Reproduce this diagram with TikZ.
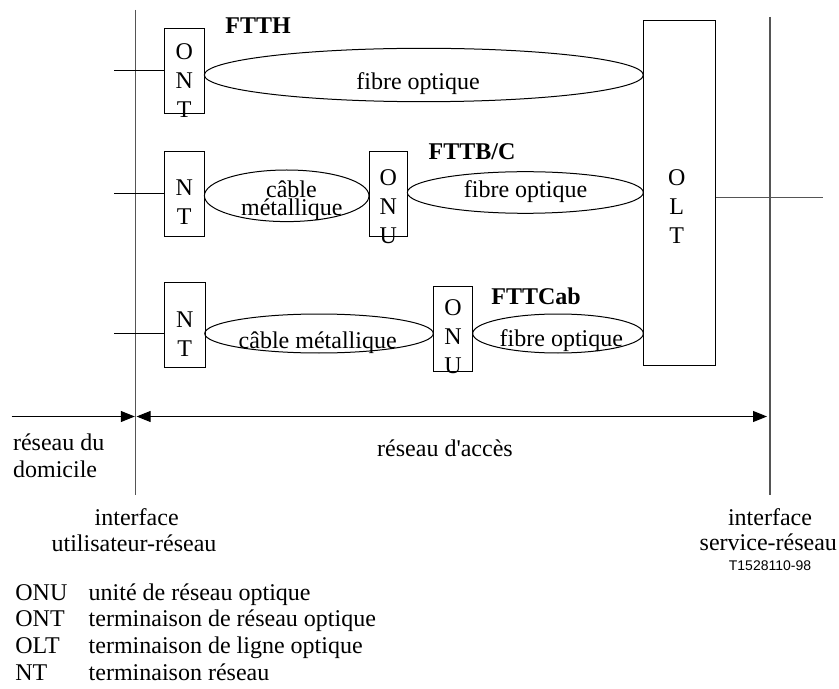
\documentclass[tikz,border=0pt]{standalone}
\usepackage{fontspec}
\setmainfont{Liberation Serif}
\newfontfamily\sansfam{Liberation Sans}
\usetikzlibrary{shapes.geometric,arrows.meta}
\definecolor{vgray}{RGB}{85,85,85}
\tikzset{
  box/.style={draw, rectangle, inner sep=0pt, line width=0.5pt},
  ell/.style={draw, ellipse, inner sep=0pt, line width=0.5pt},
  txt/.style={inner sep=0pt, font=\fontsize{12}{14.5}\selectfont},
  lbl/.style={txt, anchor=base west},
  ctr/.style={txt, anchor=base},
  bold/.style={inner sep=0pt, anchor=base west, font=\fontsize{12}{14.5}\selectfont\bfseries},
  stack/.style={txt, align=center},
  vline/.style={draw=vgray, line width=0.7pt},
  conn/.style={draw, line width=0.5pt},
  arr/.style={draw, line width=0.5pt, -{Triangle[length=7pt,width=5.5pt]}},
  darr/.style={draw, line width=0.5pt, {Triangle[length=7pt,width=5.5pt]}-{Triangle[length=7pt,width=5.5pt]}}
}
\begin{document}
\begin{tikzpicture}[x=0.5pt,y=-0.5pt]
\useasboundingbox (0,0) rectangle (839,689);
% interface lines
\coordinate (L1) at (135.5,10);
\coordinate (L2) at (135.5,495);
\coordinate (R1) at (770,17);
\coordinate (R2) at (770,495);
\path[vline] (L1) -- (L2);
\path[vline] (R1) -- (R2);
% boxes
\node[box, minimum width=20pt, minimum height=42.5pt] (ont) at (184.3,70.8) {};
\node[box, minimum width=20pt, minimum height=42.5pt] (nt2) at (184.3,194.2) {};
\node[box, minimum width=19.2pt, minimum height=42.5pt] (onu2) at (388.2,194.2) {};
\node[box, minimum width=20.3pt, minimum height=42.5pt] (nt3) at (184.7,324.8) {};
\node[box, minimum width=19.7pt, minimum height=42.2pt] (onu3) at (453,328.8) {};
\node[box, minimum width=36.2pt, minimum height=172.3pt] (olt) at (679.5,193.3) {};
% box letters
\node[stack] (tont) at (184.3,80.2) {O\\N\\T};
\node[stack] (tnt2) at (184.3,202) {N\\T};
\node[stack] (tonu2) at (388.2,206.8) {O\\N\\U};
\node[stack] (tnt3) at (184.7,334.3) {N\\T};
\node[stack] (tonu3) at (453,337) {O\\N\\U};
\node[stack] (tolt) at (676.7,207) {O\\L\\T};
% ellipses
\node[ell, minimum width=219.5pt, minimum height=26.7pt] (e1) at (423.8,75) {};
\node[ell, minimum width=82.3pt, minimum height=25.8pt] (e2a) at (286.7,195.8) {};
\node[ell, minimum width=118pt, minimum height=20.8pt] (e2b) at (525.3,192.5) {};
\node[ell, minimum width=114.3pt, minimum height=19.5pt] (e3a) at (319,333.5) {};
\node[ell, minimum width=85.3pt, minimum height=19.5pt] (e3b) at (558,333.5) {};
% ellipse texts
\node[lbl] (f1) at (356,90) {fibre optique};
\node[lbl] (c2a) at (265.7,197.5) {câble};
\node[lbl] (c2b) at (240.7,216) {métallique};
\node[lbl] (f2) at (463.5,198) {fibre optique};
\node[lbl] (c3) at (238.3,348) {câble métallique};
\node[lbl] (f3) at (499.3,346.7) {fibre optique};
% titles
\node[bold] (ftth) at (225,33.3) {FTTH};
\node[bold] (fttb) at (428.3,160) {FTTB/C};
\node[bold] (fttc) at (491,305) {FTTCab};
% stubs
\coordinate (s1) at (114,70.7);
\coordinate (s2) at (114,193.3);
\coordinate (s3) at (114,333.3);
\coordinate (o1) at (823,197.7);
\path[conn] (s1) -- (s1 -| ont.west);
\path[conn] (s2) -- (s2 -| nt2.west);
\path[conn] (s3) -- (s3 -| nt3.west);
\path[vline] (o1 -| olt.east) -- (o1);
% arrows
\coordinate (a0) at (11.7,416.5);
\coordinate (a1) at (134.8,416.5);
\coordinate (a2) at (136.6,416.5);
\coordinate (a3) at (767,416.5);
\path[arr] (a0) -- (a1);
\path[darr] (a2) -- (a3);
% bottom labels
\node[lbl] (rd1) at (12.7,450) {réseau du};
\node[lbl] (rd2) at (12.7,477.7) {domicile};
\node[ctr] (ra) at (445,456.7) {réseau d\textquotesingle accès};
\node[ctr] (iu1) at (136.7,525) {interface};
\node[ctr] (iu2) at (134,551.7) {utilisateur-réseau};
\node[ctr] (is1) at (770,525) {interface};
\node[ctr] (is2) at (768.3,550) {service-réseau};
\node[inner sep=0pt, anchor=base, font=\sansfam\fontsize{7}{8}\selectfont] (ref) at (770,570.7) {T1528110-98};
% legend
\node[lbl] (k1) at (15,600) {ONU};
\node[lbl] (d1) at (88.3,600) {unité de réseau optique};
\node[lbl] (k2) at (15,626.7) {ONT};
\node[lbl] (d2) at (88.3,626.7) {terminaison de réseau optique};
\node[lbl] (k3) at (15,653.3) {OLT};
\node[lbl] (d3) at (88.3,653.3) {terminaison de ligne optique};
\node[lbl] (k4) at (15,680) {NT};
\node[lbl] (d4) at (88.3,680) {terminaison réseau};
\end{tikzpicture}
\end{document}
